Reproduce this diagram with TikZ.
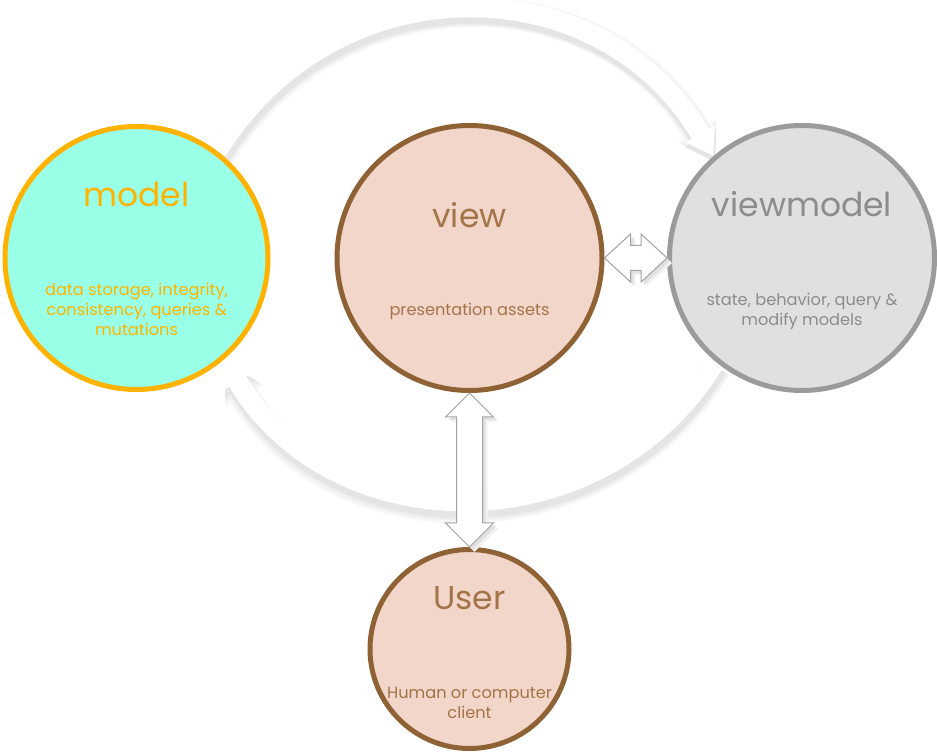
\documentclass[tikz,border=0pt]{standalone}
\usepackage{fontspec}
\setmainfont{Poppins}
\usetikzlibrary{positioning, calc, arrows.meta, backgrounds}

\definecolor{modelfill}{HTML}{99FFE6}
\definecolor{modelline}{HTML}{FFB300}
\definecolor{viewfill}{HTML}{F2D6CA}
\definecolor{viewline}{HTML}{8F6236}
\definecolor{viewtext}{HTML}{A27448}
\definecolor{vmfill}{HTML}{E0E0E0}
\definecolor{vmline}{HTML}{9B9B9B}
\definecolor{vmtext}{HTML}{8C8C8C}
\definecolor{blockline}{HTML}{A3A3A3}

\tikzset{
  part/.style={circle, line width=2.5pt, inner sep=0pt},
  parttitle/.style={font=\fontsize{16.5}{19}\selectfont, anchor=base, inner sep=0pt},
  partnote/.style={font=\fontsize{8.1}{10}\selectfont, align=center, anchor=north, inner sep=0pt},
  flowtip/.style={-{Triangle[width=6pt 1, length=3pt 1]}},
  flow/.style={flowtip, white, line width=10pt},
  flowshade/.style 2 args={flowtip, black!#1, line width=#2},
  block/.style={draw=blockline, fill=white, line width=0.5pt, line join=miter,
    preaction={fill=black!5, transform canvas={shift={(2.5pt,-2.5pt)}}},
    preaction={fill=black!12, transform canvas={shift={(1.5pt,-1.5pt)}}}}
}

\begin{document}
\begin{tikzpicture}[x=0.5pt, y=0.5pt]
    \useasboundingbox (0,0) rectangle (937,753);

    % Define nodes
    \node[part, draw=viewline, fill=viewfill, minimum size=132.5pt] (view) at (469.5,495) {};
    \node[part, draw=modelline, fill=modelfill, minimum size=131.5pt, left=32pt of view] (model) {};
    \node[part, draw=vmline, fill=vmfill, minimum size=132.5pt, right=31.25pt of view] (viewmodel) {};
    \node[part, draw=viewline, fill=viewfill, minimum size=99.5pt, below=77pt of view] (user) {};

    % Texts
    \node[parttitle, text=modelline] (model-t) at ([yshift=25.5pt]model.center) {model};
    \node[partnote, text=modelline] (model-n) at ([yshift=-12.5pt]model.center)
        {data storage, integrity,\\consistency, queries \&\\mutations};
    \node[parttitle, text=viewtext] (view-t) at ([yshift=15pt]view.center) {view};
    \node[partnote, text=viewtext] (view-n) at ([yshift=-22.5pt]view.center) {presentation assets};
    \node[parttitle, text=vmtext] (viewmodel-t) at ([yshift=20.5pt]viewmodel.center) {viewmodel};
    \node[partnote, text=vmtext] (viewmodel-n) at ([yshift=-17.5pt]viewmodel.center)
        {state, behavior, query \&\\modify models};
    \node[parttitle, text=viewtext] (user-t) at ([yshift=19.5pt]user.center) {User};
    \node[partnote, text=viewtext] (user-n) at ([yshift=-18.75pt]user.center)
        {Human or computer\\client};

    % Loop arrows behind the circles
    \begin{scope}[on background layer]
    \draw[flowshade={3}{15pt}] ([shift={(0.8pt,-3pt)}]model.53) to[bend left=59, looseness=1.15] ([shift={(0.8pt,-3pt)}]viewmodel.131);
    \draw[flowshade={6}{13pt}] ([shift={(0.8pt,-3pt)}]model.53) to[bend left=59, looseness=1.15] ([shift={(0.8pt,-3pt)}]viewmodel.131);
    \draw[flowshade={10}{11pt}] ([shift={(0.8pt,-3pt)}]model.53) to[bend left=59, looseness=1.15] ([shift={(0.8pt,-3pt)}]viewmodel.131);
    \draw[flow] (model.53) to[bend left=59, looseness=1.15] (viewmodel.131);

    \draw[flowshade={3}{15pt}] ([shift={(0.8pt,-3pt)}]viewmodel.230) to[bend left=59, looseness=1.12] ([shift={(0.8pt,-3pt)}]model.-49);
    \draw[flowshade={6}{13pt}] ([shift={(0.8pt,-3pt)}]viewmodel.230) to[bend left=59, looseness=1.12] ([shift={(0.8pt,-3pt)}]model.-49);
    \draw[flowshade={10}{11pt}] ([shift={(0.8pt,-3pt)}]viewmodel.230) to[bend left=59, looseness=1.12] ([shift={(0.8pt,-3pt)}]model.-49);
    \draw[flow] (viewmodel.230) to[bend left=59, looseness=1.12] (model.-49);
    \end{scope}

    % Two-way block arrows
    \draw[block] (view.east) -- ([shift={(13pt,12pt)}]view.east) -- ([shift={(13pt,6.25pt)}]view.east)
        -- ([shift={(-13pt,6.25pt)}]viewmodel.west) -- ([shift={(-13pt,12pt)}]viewmodel.west)
        -- (viewmodel.west) -- ([shift={(-13pt,-12pt)}]viewmodel.west) -- ([shift={(-13pt,-6.25pt)}]viewmodel.west)
        -- ([shift={(13pt,-6.25pt)}]view.east) -- ([shift={(13pt,-12pt)}]view.east) -- cycle;
    \draw[block] (view.south) -- ([shift={(12pt,-12pt)}]view.south) -- ([shift={(6.5pt,-12pt)}]view.south)
        -- ([shift={(6.5pt,12pt)}]user.north) -- ([shift={(12pt,12pt)}]user.north)
        -- (user.north) -- ([shift={(-12pt,12pt)}]user.north) -- ([shift={(-6.5pt,12pt)}]user.north)
        -- ([shift={(-6.5pt,-12pt)}]view.south) -- ([shift={(-12pt,-12pt)}]view.south) -- cycle;

\end{tikzpicture}
\end{document}
